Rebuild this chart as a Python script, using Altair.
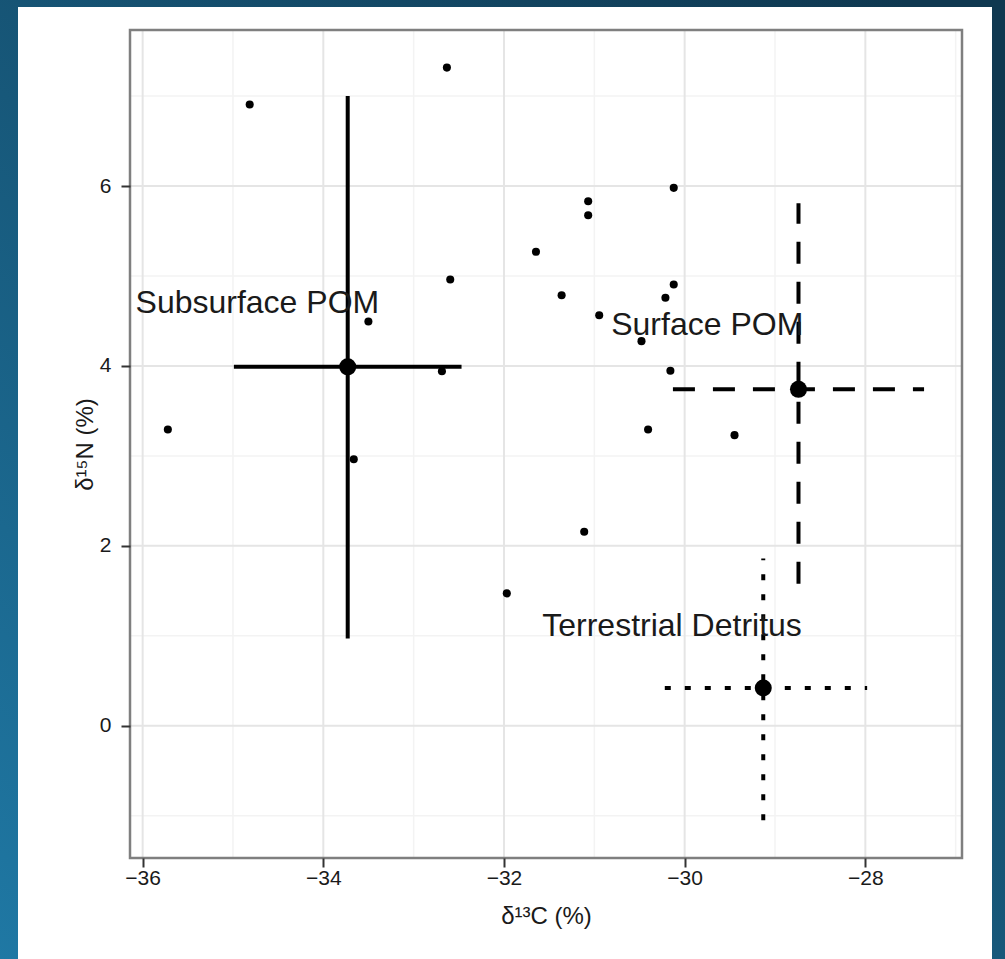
import altair as alt
import pandas as pd

# consumer samples (δ13C, δ15N)
pt_x = [-34.815, -32.632, -35.721, -31.068, -31.068, -30.121, -31.646, -32.595,
        -31.362, -30.121, -30.213, -33.501, -30.946, -30.478, -30.158, -32.687,
        -30.405, -29.448, -33.663, -31.112, -31.969]
pt_y = [6.906, 7.317, 3.294, 5.831, 5.676, 5.980, 5.269, 4.961,
        4.787, 4.906, 4.758, 4.494, 4.564, 4.276, 3.947, 3.942,
        3.294, 3.231, 2.964, 2.158, 1.472]

# sources: mean and ranges
sources = ["Subsurface POM", "Surface POM", "Terrestrial Detritus"]
src_x = [-33.73, -28.74, -29.13]
src_y = [3.99, 3.74, 0.42]
src_xmin = [-34.99, -30.13, -30.22]
src_xmax = [-32.47, -27.35, -27.98]
src_ymin = [0.97, 1.58, -1.05]
src_ymax = [7.00, 5.81, 1.86]
lab_x = [-34.73, -29.75, -30.14]
lab_y = [4.70, 4.455, 1.11]

x_major = [-36, -34, -32, -30, -28]
x_minor = [-35, -33, -31, -29, -27]
y_major = [0, 2, 4, 6]
y_minor = [-1, 1, 3, 5, 7]

pts = pd.DataFrame({"x": pt_x, "y": pt_y})
src = pd.DataFrame({"source": sources, "x": src_x, "y": src_y,
                    "xmin": src_xmin, "xmax": src_xmax,
                    "ymin": src_ymin, "ymax": src_ymax})
labs = pd.DataFrame({"source": sources, "x": lab_x, "y": lab_y})

FONT = "Liberation Sans"
xs = alt.Scale(domain=[-36.14, -26.93], nice=False, zero=False)
ys = alt.Scale(domain=[-1.47, 7.735], nice=False, zero=False)

xaxis = alt.Axis(values=x_major, grid=False, domain=False, tickSize=9, tickWidth=2,
                 tickColor="#333333", labelFont=FONT, labelFontSize=21,
                 labelColor="#1a1a1a", labelPadding=0, labelFlush=False,
                 title="δ¹³C (%)", titleFont=FONT, titleFontSize=24,
                 titleFontWeight="normal", titleColor="#1a1a1a", titlePadding=16,
                 zindex=1)
yaxis = alt.Axis(values=y_major, grid=False, domain=False, tickSize=9, tickWidth=2,
                 tickColor="#333333", labelFont=FONT, labelFontSize=21,
                 labelColor="#1a1a1a", labelPadding=10, labelFlush=False,
                 title="δ¹⁵N (%)", titleFont=FONT, titleFontSize=24,
                 titleFontWeight="normal", titleColor="#1a1a1a", titlePadding=2,
                 zindex=1)

one = pd.DataFrame({"a": [0]})

bg = alt.Chart(one).mark_rect(
    color=alt.Gradient(gradient="linear",
                       stops=[alt.GradientStop(color="#0f3850", offset=0),
                              alt.GradientStop(color="#1f78a4", offset=1)],
                       x1=0.9, y1=0, x2=0, y2=1)
).encode(x=alt.value(-130), x2=alt.value(875), y=alt.value(-30), y2=alt.value(929))

panel = alt.Chart(one).mark_rect(color="white").encode(
    x=alt.value(-112), x2=alt.value(862), y=alt.value(-23), y2=alt.value(929))

frame = alt.Chart(one).mark_rect(filled=False, stroke="#7f7f7f", strokeWidth=2.5).encode(
    x=alt.value(0), x2=alt.value(832), y=alt.value(0), y2=alt.value(828))

gxm = alt.Chart(pd.DataFrame({"v": x_minor})).mark_rule(color="#f3f3f3", strokeWidth=1.5).encode(
    x=alt.X("v:Q", scale=xs, axis=xaxis))
gym = alt.Chart(pd.DataFrame({"v": y_minor})).mark_rule(color="#f3f3f3", strokeWidth=1.5).encode(
    y=alt.Y("v:Q", scale=ys, axis=yaxis))
gxM = alt.Chart(pd.DataFrame({"v": x_major})).mark_rule(color="#e5e5e5", strokeWidth=2).encode(
    x=alt.X("v:Q", scale=xs, axis=xaxis))
gyM = alt.Chart(pd.DataFrame({"v": y_major})).mark_rule(color="#e5e5e5", strokeWidth=2).encode(
    y=alt.Y("v:Q", scale=ys, axis=yaxis))

dash = alt.StrokeDash("source:N",
                      scale=alt.Scale(domain=sources, range=[[1, 0], [22, 18], [6, 14]]),
                      legend=None)

vbar = alt.Chart(src).mark_rule(color="black", strokeWidth=4, strokeCap="butt").encode(
    x=alt.X("x:Q", scale=xs, axis=xaxis),
    y=alt.Y("ymin:Q", scale=ys, axis=yaxis), y2="ymax:Q", strokeDash=dash)
hbar = alt.Chart(src).mark_rule(color="black", strokeWidth=4, strokeCap="butt").encode(
    x=alt.X("xmin:Q", scale=xs, axis=xaxis), x2="xmax:Q",
    y=alt.Y("y:Q", scale=ys, axis=yaxis), strokeDash=dash)

dots = alt.Chart(pts).mark_circle(color="black", size=65, opacity=1).encode(
    x=alt.X("x:Q", scale=xs, axis=xaxis), y=alt.Y("y:Q", scale=ys, axis=yaxis))
means = alt.Chart(src).mark_circle(color="black", size=290, opacity=1).encode(
    x=alt.X("x:Q", scale=xs, axis=xaxis), y=alt.Y("y:Q", scale=ys, axis=yaxis))
texts = alt.Chart(labs).mark_text(font=FONT, fontSize=32, color="#1a1a1a",
                                  align="center", baseline="middle").encode(
    x=alt.X("x:Q", scale=xs, axis=xaxis), y=alt.Y("y:Q", scale=ys, axis=yaxis),
    text="source:N")

chart = alt.layer(bg, panel, gxm, gym, gxM, gyM, vbar, hbar, dots, means, texts, frame).properties(
    width=832, height=828,
    autosize=alt.AutoSizeParams(type="none"),
    padding={"left": 130, "top": 30, "right": 43, "bottom": 101},
    background="#134560",
).configure_view(stroke="#7f7f7f", strokeWidth=2, fill="white")

chart.save("out.html", embed_options={"renderer": "svg", "actions": False})
